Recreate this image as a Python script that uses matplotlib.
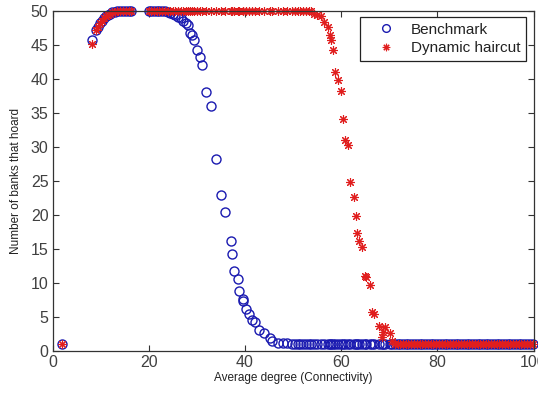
import matplotlib
matplotlib.use("Agg")
import matplotlib.pyplot as plt

plt.rcParams['font.family'] = ['Liberation Sans', 'DejaVu Sans']

# Shared x values (average degree)
x = [1.9,
     8.2, 9.0, 9.4, 9.8, 10.2, 10.6, 11.0, 11.4, 11.9, 12.4, 12.9, 13.4, 14.0, 14.6, 15.2, 15.8, 16.2,
     20.0, 20.5, 21.1, 21.6, 22.2, 22.7, 23.3, 23.9, 24.4, 25.0, 25.5, 26.1, 26.7, 27.2, 27.7, 28.1,
     28.5, 29.0, 29.4, 30.1, 30.6, 31.0, 31.9, 32.9, 34.0, 35.0, 35.8, 37.1, 37.3, 37.8, 38.5, 38.7,
     39.5, 39.6, 40.2, 40.8, 41.5, 42.1, 43.0, 43.9, 45.1, 45.7, 46.8, 47.8, 48.8, 49.8, 50.4, 51.0,
     51.5, 52.1, 52.7, 53.3, 53.8, 54.4, 55.0, 55.8, 56.5, 57.2, 57.7, 57.9, 58.3, 58.8, 59.4, 60.0,
     60.3, 60.8, 61.4, 61.9, 62.6, 63.0, 63.3, 63.8, 64.3, 64.9, 65.2, 65.9, 66.4, 66.9, 67.8, 68.5,
     68.7, 69.2, 70.1, 70.6, 71.2, 71.8, 72.3, 72.9, 73.5, 74.0, 74.6, 75.2, 75.8, 76.3, 76.9, 77.5,
     78.1, 78.6, 79.2, 79.8, 80.3, 80.9, 81.5, 82.1, 82.6, 83.2, 83.8, 84.3, 84.9, 85.5, 86.1, 86.6,
     87.2, 87.8, 88.4, 88.9, 89.5, 90.1, 90.6, 91.2, 91.8, 92.4, 92.9, 93.5, 94.1, 94.7, 95.2, 95.8,
     96.4, 97.0, 97.5, 98.1, 98.7, 99.3, 99.8]

benchmark = [1.0,
     45.7, 47.2, 47.7, 48.2, 48.6, 48.9, 49.2, 49.4, 49.6, 49.8, 49.9, 50, 50, 50, 50, 50, 50,
     50, 50, 50, 50, 50, 50, 50, 49.8, 49.7, 49.5, 49.4, 49.1, 48.9, 48.5, 48.2, 47.9,
     46.8, 46.4, 45.7, 44.3, 43.2, 42.0, 38.1, 36.1, 28.3, 22.9, 20.4, 16.2, 14.2, 11.8, 10.6, 8.8,
     7.7, 7.4, 6.2, 5.4, 4.6, 4.3, 3.1, 2.6, 1.9, 1.4, 1.2, 1.2, 1.2, 1.1, 1.1, 1.1,
     1.1, 1.1, 1.1, 1.1, 1.1, 1.1, 1.1, 1.1, 1.1, 1.1, 1.1, 1.1, 1.1, 1.1, 1.1, 1.1,
     1.1, 1.1, 1.1, 1.1, 1.1, 1.1, 1.1, 1.1, 1.1, 1.1, 1.1, 1.1, 1.1, 1.1, 1.1, 1.1,
     1.1, 1.1, 1.1, 1.1, 1.1, 1.1, 1.1, 1.1, 1.1, 1.1, 1.1, 1.1, 1.1, 1.1, 1.1, 1.1,
     1.1, 1.1, 1.1, 1.1, 1.1, 1.1, 1.1, 1.1, 1.1, 1.1, 1.1, 1.1, 1.1, 1.1, 1.1, 1.1,
     1.1, 1.1, 1.1, 1.1, 1.1, 1.1, 1.1, 1.1, 1.1, 1.1, 1.1, 1.1, 1.1, 1.1, 1.1, 1.1,
     1.1, 1.1, 1.1, 1.1, 1.1, 1.1, 1.1]

dynamic = [1.0,
     45.2, 47.2, 47.7, 48.2, 48.6, 48.9, 49.2, 49.4, 49.6, 49.8, 49.9, 50, 50, 50, 50, 50, 50,
     50, 50, 50, 50, 50, 50, 50, 50, 50, 50, 50, 50, 50, 50, 50, 50,
     50, 50, 50, 50, 50, 50, 50, 50, 50, 50, 50, 50, 50, 50, 50, 50,
     50, 50, 50, 50, 50, 50, 50, 50, 50, 50, 50, 50, 50, 50, 50, 50,
     50, 50, 50, 50, 50, 49.6, 49.4, 49.2, 48.4, 47.7, 46.5, 45.7, 44.3, 41.0, 39.9, 38.3,
     34.1, 31.0, 30.3, 24.8, 22.7, 19.8, 17.3, 16.2, 15.3, 11.1, 10.9, 9.7, 5.8, 5.5, 3.7, 2.1,
     2.8, 3.6, 2.6, 1.5, 1.1, 1.1, 1.1, 1.1, 1.1, 1.1, 1.1, 1.1, 1.1, 1.1, 1.1, 1.1,
     1.1, 1.1, 1.1, 1.1, 1.1, 1.1, 1.1, 1.1, 1.1, 1.1, 1.1, 1.1, 1.1, 1.1, 1.1, 1.1,
     1.1, 1.1, 1.1, 1.1, 1.1, 1.1, 1.1, 1.1, 1.1, 1.1, 1.1, 1.1, 1.1, 1.1, 1.1, 1.1,
     1.1, 1.1, 1.1, 1.1, 1.1, 1.1, 1.1]

xticks = [0, 20, 40, 60, 80, 100]
yticks = [0, 5, 10, 15, 20, 25, 30, 35, 40, 45, 50]

W, H = 538, 395
fig = plt.figure(figsize=(W / 100, H / 100), dpi=100)
ax = fig.add_axes([52.7 / W, 44 / H, (533.5 - 52.7) / W, 340 / H])

blue = '#1a1ab0'
red = '#e01e1e'
star = (8, 2, 0)

ax.plot(x, benchmark, linestyle='none', marker='o', markersize=6.5,
        markerfacecolor='none', markeredgecolor=blue, markeredgewidth=1.0,
        label='Benchmark', clip_on=False)
ax.plot(x, dynamic, linestyle='none', marker=star, markersize=6.3,
        color=red, markeredgecolor=red, markeredgewidth=0.8,
        label='Dynamic haircut', clip_on=False)

ax.set_xlim(0, 100)
ax.set_ylim(0, 50)
ax.set_xticks(xticks)
ax.set_yticks(yticks)
ax.tick_params(direction='in', length=4, width=0.8, top=True, right=True,
               labelsize=11.5, labelcolor='#404040', color='#333333', pad=3)
for s in ax.spines.values():
    s.set_color('#333333')
    s.set_linewidth(0.9)

ax.set_xlabel('Average degree (Connectivity)', fontsize=8.5, color='#222222', labelpad=1)
ax.set_ylabel('Number of banks that hoard', fontsize=8.5, color='#222222', labelpad=6)

leg = ax.legend(loc='upper right', bbox_to_anchor=(0.99, 0.99), fontsize=11,
                frameon=True, fancybox=False, framealpha=1, edgecolor='#222222',
                borderpad=0.35, handletextpad=0.3, handlelength=2.7, labelspacing=0.3,
                borderaxespad=0.2, markerscale=0.85)
leg.get_frame().set_linewidth(0.9)
for t in leg.get_texts():
    t.set_color('#222222')

fig.savefig('out.png', dpi=100)
